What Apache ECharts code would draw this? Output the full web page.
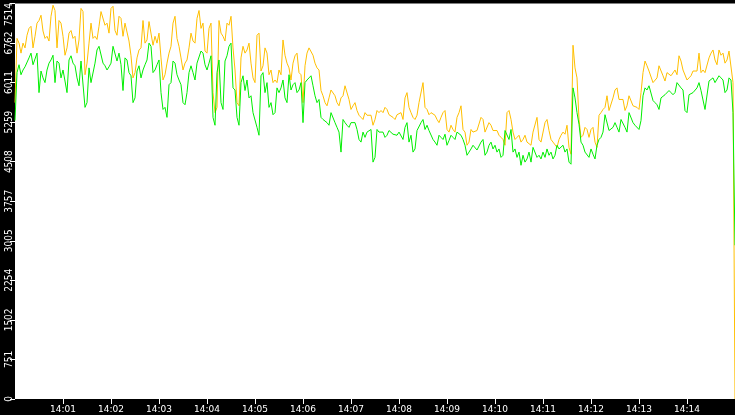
<!DOCTYPE html>
<html>
<head>
<meta charset="utf-8">
<script src="https://cdn.jsdelivr.net/npm/echarts@6/dist/echarts.min.js"></script>
<style>
html,body{margin:0;padding:0;background:#000;}
#c{width:735px;height:415px;}
</style>
</head>
<body>
<div id="c"></div>
<script>
// main samples every 5 s from 14:00:00, mid samples 2.5 s later
const stepSeconds = 5;
const orange = [
5630,6760,6760,6910,7080,6890,7190,6990,6890,7270,7380,7190,6890,6670,7000,6890,6820,7360,6380,7140,6890,7080,7360,7140,7420,7000,7270,6890,7140,6520,6200,6630,7190,6820,7190,6890,
6950,6060,6380,6700,7270,6700,6250,6440,6950,6760,7380,7140,6570,7140,5440,7190,6890,7140,7270,6250,5570,6700,6630,6380,6010,6950,6330,6570,6250,6060,6250,6820,6380,6060,6520,6200,
5630,6570,6700,6380,6250,5760,5570,5870,5760,5570,5760,5950,5500,5630,5390,5310,5390,5390,5310,5440,5440,5500,5390,5310,5390,5310,5820,5440,5310,5630,6010,5500,5440,5390,5250,5440,
5120,5200,5070,5440,5120,4820,5120,5070,5070,5310,5070,5200,5070,5010,4930,5440,5310,4930,5010,4930,4880,4820,5070,4930,4880,5310,4930,4880,4930,5070,5200,4650,6290,5310,5010,5120,
5120,4880,5390,5500,5760,5500,5870,5690,5690,5570,5760,5570,5500,6200,6330,6250,6010,6330,6140,6200,6140,6250,6520,6250,6060,6140,6250,6570,6250,6200,6570,6440,6630,6570,6440,6630
];
const orangeMid = [
6850,6570,6670,7040,6670,7140,7290,6850,6800,7480,6670,7140,6530,6950,6850,6570,7420,6160,6760,6850,6830,7360,7100,6950,7460,6910,7230,7140,6800,6100,6480,6670,6760,7170,6720,6760,
6480,6160,6570,7140,6850,6480,6380,6670,6800,7230,7040,6610,7040,5820,5540,6950,6800,7100,6670,5630,6480,6570,6760,6100,6910,6230,6670,6160,6010,6010,6160,6530,6290,6380,6570,6160,
6330,6670,6530,6290,5860,5630,5720,5860,5630,5720,5950,5690,5570,5480,5350,5440,5400,5200,5480,5480,5540,5400,5350,5400,5440,5720,5540,5350,5390,5630,5540,5400,5440,5310,5350,5480,
5070,5120,5350,5570,5070,4880,5070,5100,5350,5070,5250,5100,5100,4970,4820,5480,5070,4970,4880,5010,4880,5070,5350,4880,5250,5100,4880,4780,5010,5030,4780,6720,6100,4970,5160,4970,
5160,4780,5440,5540,5480,5720,5910,5720,5480,5760,5570,5540,5820,6420,6230,6010,6100,6330,6040,6230,6160,6160,6420,6230,6100,6230,6230,6200,6200,6480,6630,6350,6530,6380,6610
];
const green = [
5290,6350,6250,6330,6570,6380,5820,6100,6250,6440,6010,6380,6250,5820,6520,6330,5950,6440,5630,6010,6380,6700,6380,6250,6380,6700,6570,5860,6440,6140,5720,6330,6250,6440,6700,6250,
6440,5500,5350,6010,6380,6060,5630,5820,6330,6060,6380,6570,6250,6520,5200,6440,5500,6520,6760,5870,5200,6140,6060,5760,5440,5010,6200,6010,5630,5440,5820,6060,5630,5870,6010,5870,
5250,6060,6140,5760,5690,5310,5250,5440,5250,5070,5310,5200,5250,5250,4930,5070,5070,5120,4590,5070,5070,5010,5120,5010,5070,4930,5250,5010,4750,5120,5310,5200,5070,4880,5010,4930,
4820,5010,4930,5070,4930,4630,4750,4820,4750,4930,4690,4880,4820,4750,4630,5070,5120,4750,4690,4630,4560,4500,4750,4630,4690,4750,4690,4630,4750,4820,4750,4460,5720,5220,4820,4690,
4750,4560,4930,5070,5390,5120,5250,5070,5310,5070,5440,5200,5120,5760,5870,5950,5630,5500,5690,5760,5820,5820,6010,5870,5440,5760,5820,6010,5870,5500,6060,6010,6140,6060,5870,6060
];
const greenMid = [
6200,6160,6310,6480,6350,6570,6230,6010,6380,6530,6420,6100,6040,6440,6380,6100,6420,5540,6290,6040,6630,6720,6330,6310,6700,6420,6350,6480,6200,5630,6230,6100,6350,6760,6200,6350,
5820,5540,5970,6420,6160,5970,5590,6200,6200,6380,6610,6350,6380,5350,6200,5630,6420,6700,5910,5350,6010,5860,5720,5440,5160,6140,5820,5540,5400,5910,5910,5720,6160,5970,5820,6010,
6010,6100,5950,5630,5350,5290,5200,5440,5160,4690,5250,5160,5220,5120,4880,4970,5100,4500,5120,5070,4970,5100,5030,5010,5070,5160,4880,4690,5100,5250,5120,5100,4930,4820,4970,5030,
4910,4970,5070,5010,4820,4690,4820,4730,4880,4630,4820,4750,4690,4590,5100,4930,4690,4590,4440,4500,4690,4780,4590,4560,4590,4630,4560,4820,4730,4690,4500,5910,5440,4880,4690,4590,
4650,4820,4970,5400,5100,5160,5160,5310,5160,5440,5250,5200,5290,5910,5950,5670,5590,5720,5780,5860,5780,6010,5910,5480,5780,5820,5910,5860,5500,6040,6100,6010,6100,5820,6100
];
// last partial samples at the right edge
const endSeconds = [897.5, 900];
const orangeEnd = [6010, 0];
const greenEnd = [5440, 2920];
const yMax = 7514;
const yStep = 751.4;
const xTickSeconds = [60,120,180,240,300,360,420,480,540,600,660,720,780,840];

function build(vals, mids, endVals) {
  const out = [];
  vals.forEach((v, i) => {
    out.push([i * stepSeconds, v]);
    if (i < mids.length) out.push([i * stepSeconds + stepSeconds / 2, mids[i]]);
  });
  endSeconds.forEach((t, k) => out.push([t, endVals[k]]));
  return out;
}
function pad(n){ return (n < 10 ? '0' : '') + n; }

const chart = echarts.init(document.getElementById('c'), null, {renderer: 'canvas'});
chart.setOption({
  animation: false,
  backgroundColor: '#000',
  grid: {left: 15, right: 0, top: 0, bottom: 16, show: true, backgroundColor: '#fff', borderWidth: 0},
  xAxis: {
    type: 'value', min: 0, max: 900, interval: 60,
    axisLine: {show: false},
    splitLine: {show: false},
    axisTick: {show: true, length: 5, lineStyle: {color: '#fff', width: 1}, customValues: xTickSeconds},
    axisLabel: {
      color: '#fff', fontSize: 9, fontFamily: 'DejaVu Sans', margin: 6,
      customValues: xTickSeconds,
      formatter: v => '14:' + pad(Math.round(v / 60))
    }
  },
  yAxis: {
    type: 'value', min: 0, max: yMax, interval: yStep,
    axisLine: {show: false},
    splitLine: {show: false},
    axisTick: {show: true, length: 5, lineStyle: {color: '#fff', width: 1}},
    axisLabel: {
      color: '#fff', fontSize: 10, fontFamily: 'DejaVu Sans Condensed', rotate: 90, margin: 1,
      showMaxLabel: true,
      formatter: v => {
        const s = String(Math.floor(v + 1e-6));
        return v >= yMax - 1 ? '{top|' + s + '}' : s;
      },
      rich: {top: {color: '#fff', fontSize: 10, fontFamily: 'DejaVu Sans Condensed', padding: [0, 22, 0, 0]}}
    }
  },
  series: [
    {type: 'line', data: build(orange, orangeMid, orangeEnd), showSymbol: false, symbol: 'none',
     lineStyle: {color: '#ffbf00', width: 1}, itemStyle: {color: '#ffbf00'}},
    {type: 'line', data: build(green, greenMid, greenEnd), showSymbol: false, symbol: 'none',
     lineStyle: {color: '#00ee00', width: 1}, itemStyle: {color: '#00ee00'}}
  ]
});
</script>
</body>
</html>
